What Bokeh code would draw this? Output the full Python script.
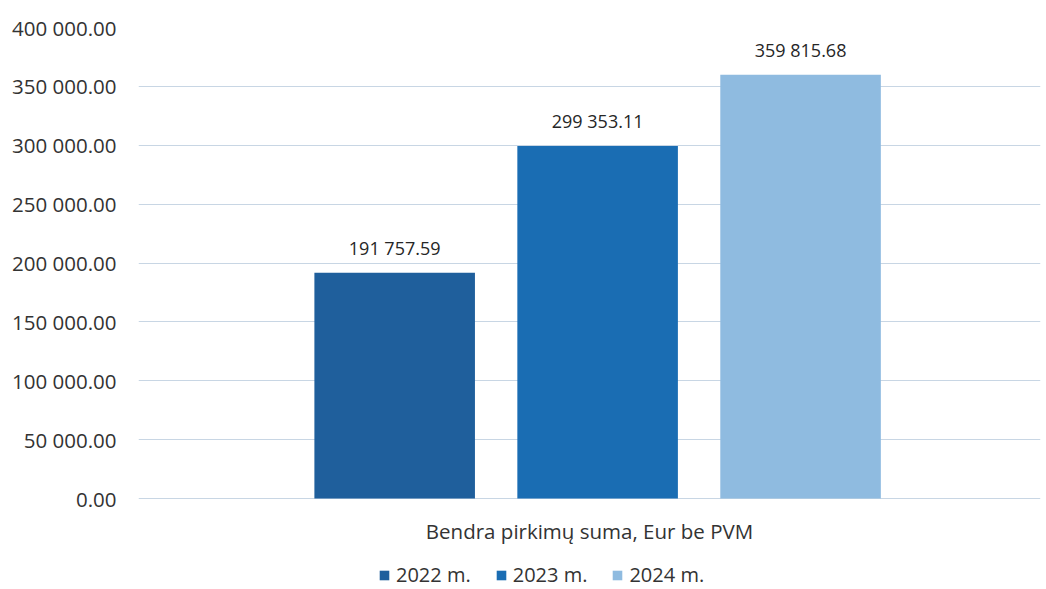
from bokeh.plotting import figure
from bokeh.models import (ColumnDataSource, FactorRange, Range1d, Legend, LegendItem,
                          CustomJSTickFormatter, FixedTicker)
from bokeh.transform import dodge
from bokeh.core.properties import value
from bokeh.embed import file_html
from bokeh.resources import INLINE

category = ["Bendra pirkimų suma, Eur be PVM"]
years = ["2022 m.", "2023 m.", "2024 m."]
values = [191757.59, 299353.11, 359815.68]
labels = ["191 757.59", "299 353.11", "359 815.68"]
colors = ["#1f5f9c", "#1a6db3", "#8fbbe0"]
y_ticks = [0, 50000, 100000, 150000, 200000, 250000, 300000, 350000, 400000]

FONT = "Open Sans"

# plot frame extends below the zero line to hold the category label and legend
Y_MAX = 400000
Y_MIN = -Y_MAX * 91 / 471

p = figure(x_range=FactorRange(*category), y_range=Range1d(Y_MIN, Y_MAX),
           frame_width=902, frame_height=562, output_backend="svg", toolbar_location=None,
           min_border_left=138, min_border_right=4, min_border_top=27, min_border_bottom=0)
p.outline_line_color = None
p.background_fill_color = "white"

offsets = [-0.216, 0.009, 0.234]
renderers = []
for i in range(3):
    src = ColumnDataSource(dict(x=category, top=[values[i]], lab=[labels[i]]))
    r = p.vbar(x=dodge("x", offsets[i], range=p.x_range), top="top", bottom=0, width=0.178,
               source=src, fill_color=colors[i], line_color=None)
    p.text(x=dodge("x", offsets[i], range=p.x_range), y="top", text="lab", source=src,
           text_align="center", text_baseline="bottom", y_offset=-13,
           text_font=value(FONT), text_font_size="18px", text_color="#262626")
    renderers.append(r)

# category label below the zero line
cat_src = ColumnDataSource(dict(x=category, y=[0]))
p.text(x="x", y="y", text="x", source=cat_src, text_align="center", text_baseline="middle",
       y_offset=32, text_font=value(FONT), text_font_size="20.5px", text_color="#333333")

p.xaxis.visible = False
p.yaxis.ticker = FixedTicker(ticks=y_ticks)
p.yaxis.formatter = CustomJSTickFormatter(code="""
    const s = tick.toFixed(2);
    const parts = s.split('.');
    const ip = parts[0].replace(/\\B(?=(\\d{3})+(?!\\d))/g, ' ');
    return ip + '.' + parts[1];
""")
p.yaxis.axis_line_color = None
p.yaxis.major_tick_line_color = None
p.yaxis.minor_tick_line_color = None
p.yaxis.major_label_text_font = FONT
p.yaxis.major_label_text_font_size = "20.5px"
p.yaxis.major_label_text_color = "#333333"
p.yaxis.major_label_standoff = 16

p.xgrid.grid_line_color = None
p.ygrid.ticker = FixedTicker(ticks=y_ticks)
p.ygrid.grid_line_color = "#c8d6e4"
p.ygrid.grid_line_width = 1

legend = Legend(items=[LegendItem(label=years[i], renderers=[renderers[i]]) for i in range(3)],
                orientation="horizontal", location=(240, 1),
                label_text_font=FONT, label_text_font_size="20px", label_text_color="#333333",
                glyph_width=12, glyph_height=12, label_standoff=6, spacing=24,
                padding=0, margin=0,
                border_line_color=None, background_fill_alpha=0)
p.add_layout(legend, "center")

open("out.html", "w").write(file_html(p, INLINE))
